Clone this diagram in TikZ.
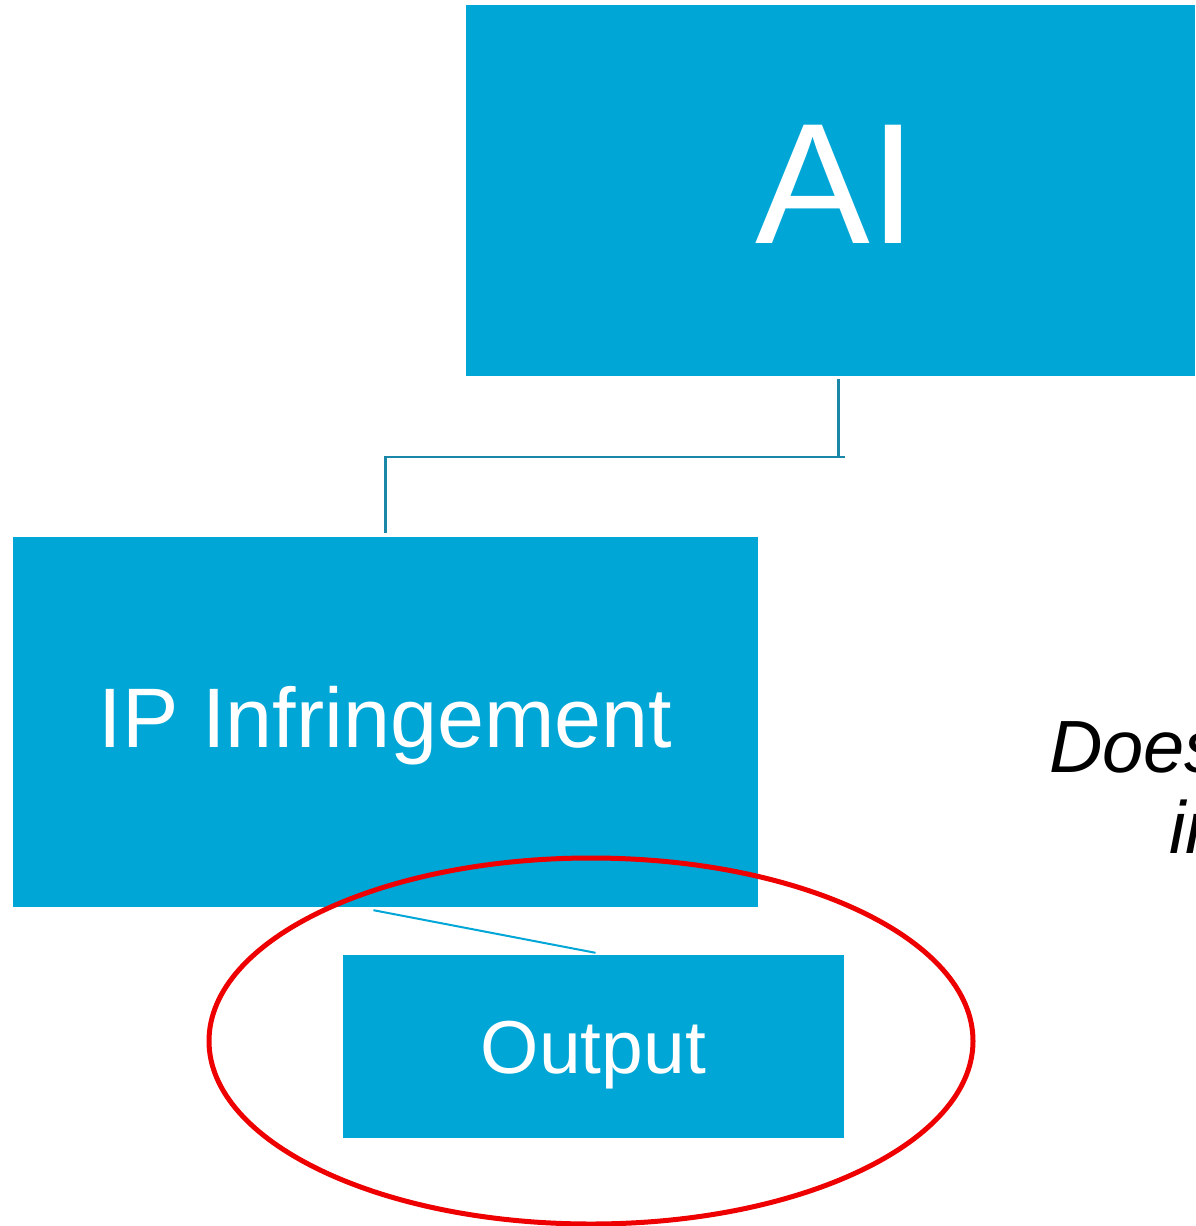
\documentclass[tikz,border=0pt]{standalone}
\usepackage{fontspec}
\setmainfont{Liberation Sans}
\usetikzlibrary{calc}
\definecolor{boxblue}{RGB}{0,166,214}
\definecolor{linkteal}{RGB}{26,134,168}
\definecolor{ringred}{RGB}{238,0,0}
\tikzset{
  box/.style={fill=boxblue, draw=none, text=white, inner sep=0pt, align=center},
  link/.style={draw=linkteal, line width=2.5pt},
  sublink/.style={draw=boxblue, line width=2pt},
  ring/.style={draw=ringred, line width=5pt},
  note/.style={font=\itshape\fontsize{74}{80}\selectfont, inner sep=0pt, text=black}
}
\begin{document}
\begin{tikzpicture}[x=1pt, y=-1pt]
  \clip (0,0) rectangle (1196,1226);
  \fill[white] (0,0) rectangle (1196,1226);

  % boxes of the hierarchy
  \node[box, minimum width=729pt, minimum height=371pt,
        text height=123pt, text depth=18pt,
        font=\fontsize{172}{180}\selectfont] (ai) at (830.5,190.5) {\hspace*{12pt}AI};
  \node[box, minimum width=745pt, minimum height=370pt,
        text height=61pt, text depth=9.5pt,
        font=\fontsize{84.5}{90}\selectfont] (ip) at (385.5,722) {IP Infringement};
  \node[box, minimum width=501pt, minimum height=183pt,
        text height=54pt, text depth=0pt,
        font=\fontsize{75}{80}\selectfont] (out) at (593.5,1046.5) {Output};

  % connectors
  \coordinate (aifoot) at ($(ai.south)+(8,3)$);
  \draw[link] (aifoot) -- ++(0,78) -| ($(ip.north)+(0,-4)$);
  \draw[link] ($(aifoot)+(0,78)$) -- ++(6,0);
  \draw[sublink] ($(ip.south)+(-12,3)$) -- ($(out.north)+(2,-2)$);

  % highlight ring round the output
  \draw[ring] ($(out.center)+(-2.5,-5.5)$) ellipse [x radius=382pt, y radius=183pt];

  % question at the right
  \node[note, anchor=base west] (q1) at (1049,772) {Does};
  \node[note, anchor=base west] (q2) at (1169,853) {in};
\end{tikzpicture}
\end{document}
